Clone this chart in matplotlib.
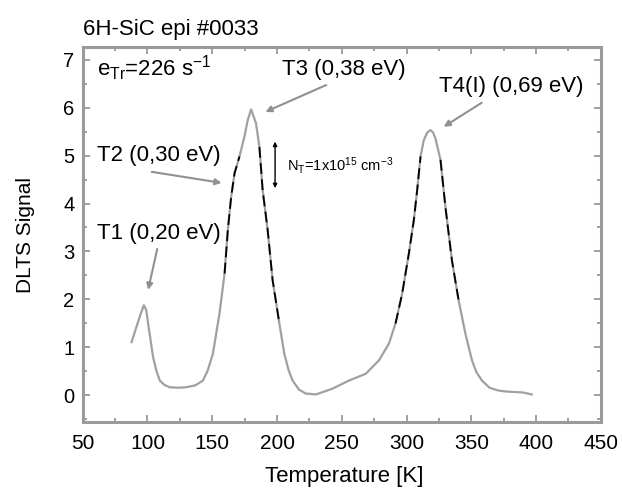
import numpy as np
import matplotlib
matplotlib.use("Agg")
import matplotlib.pyplot as plt

plt.rcParams['font.family'] = ['Liberation Sans', 'DejaVu Sans']
plt.rcParams['mathtext.fontset'] = 'custom'
plt.rcParams['mathtext.rm'] = 'Liberation Sans'
plt.rcParams['mathtext.it'] = 'Liberation Sans'

# DLTS spectrum
temp = [87.7, 91.5, 95, 97.2, 99, 100.5, 104.3, 107, 109.5, 113, 117, 124, 130, 137,
        142.8, 146.5, 150.5, 155.6, 159.5,
        162, 164.6, 167.2, 171, 174.8, 177.4, 180, 183.8, 186.4, 188.9, 192.8, 196.6,
        201.8, 205.6, 209, 212, 217, 222, 230, 242.8, 255.6, 268.5, 278.7, 286.4, 291.5, 296.6,
        301.8, 305.6, 308.2, 310.8, 313.3, 316, 318.5, 320.5, 322.3, 326.2, 330, 335, 340.2, 345.4,
        350.5, 354, 358.2, 364, 371, 377, 383.8, 390, 396.6]
signal = [1.11, 1.43, 1.72, 1.88, 1.78, 1.50, 0.80, 0.50, 0.31, 0.22, 0.17, 0.16, 0.17, 0.21,
          0.31, 0.52, 0.87, 1.71, 2.54,
          3.44, 4.14, 4.63, 4.98, 5.39, 5.74, 5.96, 5.67, 5.18, 4.28, 3.44, 2.40,
          1.50, 0.87, 0.52, 0.31, 0.12, 0.04, 0.02, 0.14, 0.31, 0.45, 0.73, 1.08, 1.50, 2.12,
          2.96, 3.65, 4.28, 4.98, 5.32, 5.48, 5.53, 5.48, 5.36, 4.91, 3.93, 2.82, 1.98, 1.29,
          0.73, 0.48, 0.31, 0.16, 0.10, 0.08, 0.07, 0.06, 0.02]

# trap labels: text, text position, arrow tail, arrow head
traps = ["T1 (0,20 eV)", "T2 (0,30 eV)", "T3 (0,38 eV)", "T4(I) (0,69 eV)"]
label_pos = [(61, 3.38), (61, 5.01), (204, 6.79), (324.8, 6.43)]
arrow_tail = [(107.5, 3.05), (103.3, 4.66), (238, 6.47), (358, 6.10)]
arrow_head = [(100.5, 2.2), (157.2, 4.43), (191, 5.91), (328.7, 5.6)]

fig = plt.figure(figsize=(6.22, 4.91), dpi=100)
ax = fig.add_axes([0.133, 0.141, 0.833, 0.764])

t = np.array(temp)
s = np.array(signal)
ax.plot(t, s, color='#a0a0a0', lw=1.6)
# darker flanks like the scan
dark = np.where((t > 158) & (s > 1.4) & (s < 5.3), s, np.nan)
ax.plot(t, dark, color='black', lw=1.3, dashes=(6, 3))

for name, pos, tail, head in zip(traps, label_pos, arrow_tail, arrow_head):
    ax.text(pos[0], pos[1], name, fontsize=16, va='center', ha='left')
    ax.annotate("", xy=head, xytext=tail,
                arrowprops=dict(arrowstyle='-|>', color='#909090', lw=1.5,
                                mutation_scale=9, shrinkA=0, shrinkB=0))

ax.text(61, 6.83, r'e$_{\mathrm{Tr}}$=226 s$^{-1}$', fontsize=16, va='center', ha='left')

ax.annotate("", xy=(198.5, 5.29), xytext=(198.5, 4.32),
            arrowprops=dict(arrowstyle='<|-|>', color='black', lw=1.0,
                            mutation_scale=6, shrinkA=0, shrinkB=0))
ax.text(208, 4.8, r'N$_{\mathrm{T}}$=1x10$^{15}$ cm$^{-3}$', fontsize=10.5, va='center', ha='left')

fig.text(83 / 622, 1 - 29 / 491, "6H-SiC epi #0033", fontsize=16, va='center', ha='left')

ax.set_xlim(50, 450)
ax.set_ylim(-0.55, 7.27)
ax.set_xticks(np.arange(50, 451, 50))
ax.set_xticks(np.arange(50, 451, 25), minor=True)
ax.set_yticks(np.arange(0, 8, 1))
ax.set_yticks(np.arange(-0.5, 7.3, 0.5), minor=True)

ax.tick_params(which='both', direction='in', top=True, right=True, color='#909090', width=1.2)
ax.tick_params(which='major', length=5)
ax.tick_params(which='minor', length=3)
ax.tick_params(axis='x', labelsize=15, pad=9)
ax.tick_params(axis='y', labelsize=14.5, pad=6)

for sp in ax.spines.values():
    sp.set_color('#9a9a9a')
    sp.set_linewidth(2.2)

ax.set_xlabel("Temperature [K]", fontsize=16, va='center')
ax.xaxis.set_label_coords(0.504, -0.147)
ax.set_ylabel("DLTS Signal", fontsize=15, va='center')
ax.yaxis.set_label_coords(-0.111, 0.498)

fig.savefig("out.png", dpi=100)
